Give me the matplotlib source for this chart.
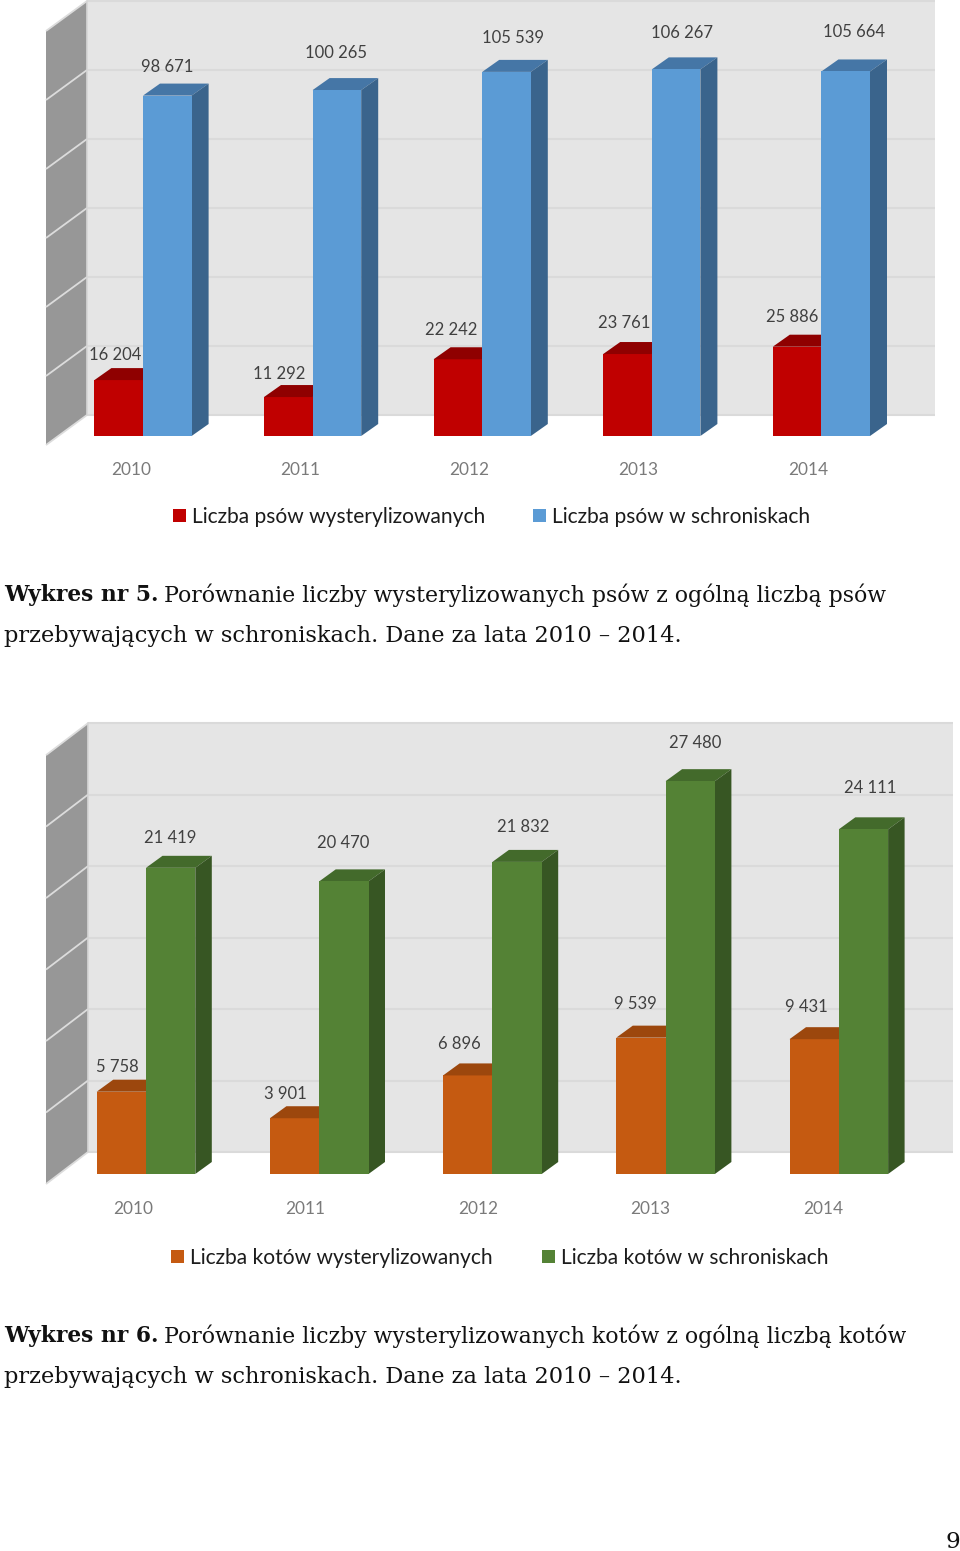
import matplotlib
matplotlib.use("Agg")
import matplotlib.pyplot as plt
from matplotlib.patches import Polygon, Patch

W, H = 960, 1551

years = [2010, 2011, 2012, 2013, 2014]
dogs_sterilized = [16204, 11292, 22242, 23761, 25886]
dogs_shelters = [98671, 100265, 105539, 106267, 105664]
cats_sterilized = [5758, 3901, 6896, 9539, 9431]
cats_shelters = [21419, 20470, 21832, 27480, 24111]

dog_names = ["Liczba psów wysterylizowanych", "Liczba psów w schroniskach"]
cat_names = ["Liczba kotów wysterylizowanych", "Liczba kotów w schroniskach"]

# label offsets in pixels from the shared bar edge / the bar's top edge
dog_low_off = [(-28, -25), (-33, -23), (-31, -29), (-28, -31), (-29, -30)]
dog_high_off = [(24, -29), (23, -37), (31, -34), (30, -36), (33, -39)]
cat_low_off = [(-29, -25), (-34, -24), (-33, -31), (-30, -34), (-32, -32)]
cat_high_off = [(24, -30), (24, -38), (31, -35), (30, -38), (31, -41)]

SANS = "Lato"
SERIF = "DejaVu Serif"
fs = lambda px: px * 0.72

fig = plt.figure(figsize=(W / 100, H / 100), dpi=100, facecolor="white")


def fmt(v):
    return f"{v:,}".replace(",", " ")


def chart(low, high, names, low_off, high_off, g):
    ax = fig.add_axes([0, 1 - g["ax_bot"] / H, 1, (g["ax_bot"] - g["ax_top"]) / H])
    ax.patch.set_alpha(0)
    step, sy = g["step"], g["sy"]
    ax.set_xlim(-g["x0"] / step, (W - g["x0"]) / step)
    ax.set_ylim((g["base"] - g["ax_bot"]) / sy, (g["base"] - g["ax_top"]) / sy)
    for s in ax.spines.values():
        s.set_visible(False)
    ax.set_yticks([])

    def P(cat, val, dx=0, dy=0):
        return (cat + dx / step, val + dy / sy)

    # walls
    bdx, bdy, fdx, fdy = g["back_dx"], g["back_dy"], g["front_dx"], g["front_dy"]
    ymax, ystep = g["ymax"], g["ystep"]
    right = g["wall_right"]
    ax.add_patch(Polygon([P(0, 0, bdx, bdy), P(0, 0, right, bdy), P(0, ymax, right, bdy),
                          P(0, ymax, bdx, bdy)], fc="#e5e5e5", ec="none", zorder=1))
    ax.add_patch(Polygon([P(0, 0, fdx, fdy), P(0, 0, bdx, bdy), P(0, ymax, bdx, bdy),
                          P(0, ymax, fdx, fdy)], fc="#979797", ec="none", zorder=1))
    v = 0
    while v <= ymax:
        ax.plot(*zip(P(0, v, bdx, bdy), P(0, v, right, bdy)), color="#dadada", lw=1.5, zorder=2,
                solid_capstyle="butt")
        ax.plot(*zip(P(0, v, fdx, fdy), P(0, v, bdx, bdy)), color="#dcdcdc", lw=1.3, zorder=2,
                solid_capstyle="butt")
        v += ystep
    ax.plot(*zip(P(0, 0, bdx, bdy), P(0, ymax, bdx, bdy)), color="#d6d6d6", lw=1.2, zorder=2)

    # bars
    w = g["bw"] / step
    dx, dy = g["dx"], g["dy"]
    z = 3
    for i, (a, b) in enumerate(zip(low, high)):
        ax.bar(i - w, a, width=w, align="edge", color=g["c1"], zorder=z)
        ax.add_patch(Polygon([P(i - w, a), P(i, a), P(i, a, dx, dy), P(i - w, a, dx, dy)],
                             fc=g["c1t"], ec="none", zorder=z))
        ax.add_patch(Polygon([P(i, b), P(i + w, b), P(i + w, b, dx, dy), P(i, b, dx, dy)],
                             fc=g["c2t"], ec="none", zorder=z + 1))
        ax.add_patch(Polygon([P(i + w, 0), P(i + w, 0, dx, dy), P(i + w, b, dx, dy), P(i + w, b)],
                             fc=g["c2s"], ec="none", zorder=z + 1))
        ax.bar(i, b, width=w, align="edge", color=g["c2"], zorder=z + 2)
        for val, (ox, oy) in ((a, low_off[i]), (b, high_off[i])):
            ax.annotate(fmt(val), (i, val), xytext=(ox * 0.72, -oy * 0.72),
                        textcoords="offset points", ha="center", va="center",
                        fontsize=fs(g["lab"]), color="#404040", family=SANS, zorder=10)

    ax.set_xticks([(g["tick_dx"] + i * g["tick_step"]) / step for i in range(len(years))],
                  [str(y) for y in years])
    ax.tick_params(axis="x", length=0, pad=g["pad"] * 0.72, labelsize=fs(g["tick"]),
                   labelcolor="#7a7a7a")
    for t in ax.get_xticklabels():
        t.set_family(SANS)

    handles = [Patch(fc=g["c1"], ec="none", label=names[0]), Patch(fc=g["c2"], ec="none", label=names[1])]
    fpx = g["leg"]
    ax.legend(handles=handles, ncol=2, frameon=False, prop={"family": SANS, "size": fs(fpx)},
              loc="center left", bbox_to_anchor=(g["leg_x"] / W, 1 - g["leg_y"] / H),
              bbox_transform=fig.transFigure, handlelength=13 / fpx, handleheight=13 / fpx,
              handletextpad=g["leg_pad"] / fpx, columnspacing=g["leg_col"] / fpx,
              borderpad=0, borderaxespad=0, labelcolor="#1c1c1c")


chart(dogs_sterilized, dogs_shelters, dog_names, dog_low_off, dog_high_off, dict(
    ax_top=0, ax_bot=447, base=436, x0=143, step=169.6, sy=0.00345, bw=48.6, dx=17, dy=12,
    back_dx=-56, back_dy=21, front_dx=-97, front_dy=-9, wall_right=792, ymax=120000, ystep=20000,
    c1="#c00000", c1t="#8f0000", c2="#5b9bd5", c2t="#4576a6", c2s="#3a648c",
    lab=16.6, tick=17.2, tick_dx=-12, tick_step=169.2, pad=15, leg=21, leg_x=173, leg_y=517,
    leg_pad=6, leg_col=48))

chart(cats_sterilized, cats_shelters, cat_names, cat_low_off, cat_high_off, dict(
    ax_top=700, ax_bot=1186, base=1174, x0=146, step=173.2, sy=0.014295, bw=49.3, dx=16.5, dy=12,
    back_dx=-58, back_dy=22, front_dx=-100, front_dy=-10, wall_right=807, ymax=30000, ystep=5000,
    c1="#c55a11", c1t="#9c470d", c2="#548235", c2t="#436a2b", c2s="#375623",
    lab=16.6, tick=17.2, tick_dx=-13, tick_step=172.5, pad=15, leg=21, leg_x=171, leg_y=1258,
    leg_pad=6, leg_col=49))


def caption(y, num, line1, line2):
    fig.text(4 / W, 1 - (y + 1) / H, num, fontsize=fs(21.8), family=SERIF, weight="bold",
             va="center", color="#111111")
    fig.text(164 / W, 1 - (y + 1) / H, line1, fontsize=fs(22.05), family=SERIF, va="center", color="#111111")
    fig.text(4 / W, 1 - (y + 42) / H, line2, fontsize=fs(22.45), family=SERIF, va="center", color="#111111")


caption(594, "Wykres nr 5.", "Porównanie liczby wysterylizowanych psów z ogólną liczbą psów",
        "przebywających w schroniskach. Dane za lata 2010 – 2014.")
caption(1335, "Wykres nr 6.", "Porównanie liczby wysterylizowanych kotów z ogólną liczbą kotów",
        "przebywających w schroniskach. Dane za lata 2010 – 2014.")
fig.text(953 / W, 1 - 1542 / H, "9", fontsize=fs(23), family=SERIF, ha="center", va="center", color="#111111")

fig.savefig("out.png", dpi=100, facecolor="white")
